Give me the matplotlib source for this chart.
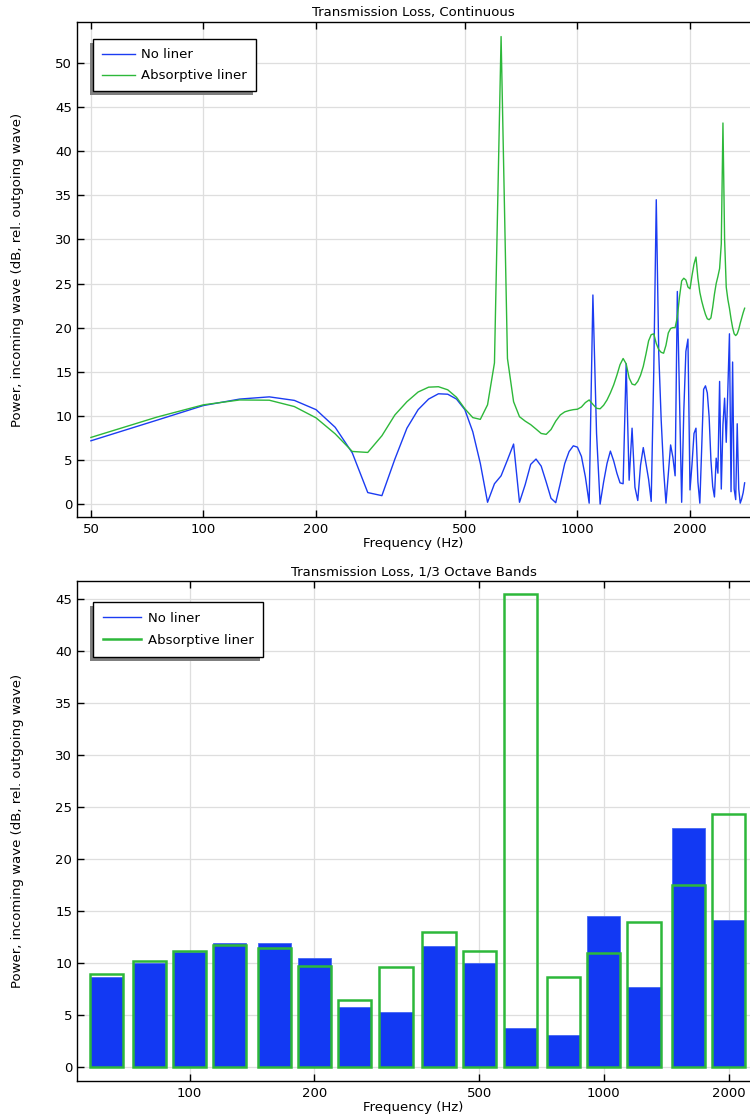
import matplotlib
matplotlib.use("Agg")
import matplotlib.pyplot as plt
import numpy as np
from matplotlib.lines import Line2D
from matplotlib.patches import Rectangle
from matplotlib.transforms import IdentityTransform
from matplotlib.ticker import NullLocator

# ---------------- data ----------------
freq = list(range(50, 2801, 25))

tl_no_liner = [
    7.17, 9.5, 11.17, 11.9, 12.15, 11.75, 10.7, 8.7, 5.8, 1.3,      # 50-275
    0.95, 5.1, 8.6, 10.7, 11.9, 12.5, 12.45, 11.9, 10.7, 8.2,       # 300-525
    4.6, 0.2, 2.3, 3.2, 5.0, 6.8, 0.2, 2.2, 4.5, 5.1,               # 550-775
    4.3, 2.5, 0.65, 0.15, 2.35, 4.6, 5.95, 6.6, 6.45, 5.4,          # 800-1025
    3.1, 0.1, 23.7, 8.0, 0.0, 2.5, 4.6, 6.0, 4.9, 3.5,              # 1050-1275
    2.4, 2.3, 15.9, 2.7, 8.6, 1.9, 0.4, 4.4, 6.4, 4.6,              # 1300-1525
    2.8, 0.3, 15.0, 34.5, 17.1, 9.5, 3.9, 0.1, 3.4, 6.7,            # 1550-1775
    5.3, 3.2, 24.1, 12.0, 0.2, 10.5, 17.3, 18.7, 1.6, 4.5,          # 1800-2025
    8.0, 8.6, 2.5, 0.1, 6.5, 13.0, 13.4, 12.6, 9.9, 5.0,            # 2050-2275
    2.0, 0.8, 5.2, 3.5, 13.9, 1.7, 9.0, 12.0, 7.0, 13.0,            # 2300-2525
    19.3, 1.4, 16.1, 1.7, 0.5, 9.1, 1.7, 0.1, 0.6, 1.3,             # 2550-2775
    2.4,                                                            # 2800
]

tl_absorptive = [
    7.55, 9.85, 11.25, 11.8, 11.77, 11.05, 9.77, 7.96, 5.96, 5.85,  # 50-275
    7.74, 10.1, 11.6, 12.7, 13.25, 13.3, 12.95, 12.1, 10.8, 9.8,    # 300-525
    9.6, 11.25, 16.0, 53.0, 16.5, 11.6, 9.9, 9.4, 9.0, 8.5,         # 550-775
    8.0, 7.9, 8.45, 9.4, 10.1, 10.45, 10.6, 10.7, 10.75, 11.0,      # 800-1025
    11.5, 11.8, 11.3, 10.85, 10.8, 11.2, 11.8, 12.6, 13.5, 14.6,    # 1050-1275
    15.8, 16.5, 15.9, 14.3, 13.6, 13.5, 13.9, 14.6, 15.6, 17.0,     # 1300-1525
    18.5, 19.2, 19.3, 18.2, 17.5, 17.2, 17.1, 18.0, 19.4, 19.9,     # 1550-1775
    20.0, 20.0, 21.2, 23.5, 25.3, 25.6, 25.4, 24.6, 24.4, 25.9,     # 1800-2025
    27.2, 28.0, 25.6, 24.0, 23.0, 22.2, 21.5, 21.0, 20.9, 21.1,     # 2050-2275
    22.3, 23.8, 25.0, 25.8, 26.7, 29.5, 43.2, 30.0, 24.6, 23.2,     # 2300-2525
    22.2, 21.0, 20.0, 19.3, 19.1, 19.3, 19.8, 20.5, 21.1, 21.7,     # 2550-2775
    22.2,                                                           # 2800
]

bands = [63, 80, 100, 125, 160, 200, 250, 315, 400, 500, 630, 800,
         1000, 1250, 1600, 2000]
band_no_liner = [8.65, 10.04, 11.1, 11.93, 11.93, 10.48, 5.75, 5.3,
                 11.6, 10.04, 3.72, 3.11, 14.5, 7.71, 23.02, 14.1]
band_absorptive = [8.96, 10.18, 11.19, 11.76, 11.43, 9.67, 6.46, 9.63,
                   13.0, 11.19, 45.47, 8.69, 10.92, 13.96, 17.48, 24.3]

series_labels = ["No liner", "Absorptive liner"]
top_title = "Transmission Loss, Continuous"
bottom_title = "Transmission Loss, 1/3 Octave Bands"
xlabel = "Frequency (Hz)"
ylabel = "Power, incoming wave (dB, rel. outgoing wave)"
top_xticks = [50, 100, 200, 500, 1000, 2000]
bottom_xticks = [100, 200, 500, 1000, 2000]

# ---------------- style ----------------
BLUE = "#1b3cf2"
BAR_BLUE = "#1239f3"
GREEN = "#2db83a"
FS = 9.5

W, H = 750, 1116
fig = plt.figure(figsize=(W / 100, H / 100), dpi=100)
ax1 = fig.add_axes([77 / W, 1 - 517 / H, 673 / W, 495 / H])
ax2 = fig.add_axes([77 / W, 1 - 1081 / H, 673 / W, 500 / H])


def style_axes(ax, xticks, ylim, yticks, xlim):
    ax.set_xscale("log")
    ax.set_xlim(*xlim)
    ax.set_ylim(*ylim)
    ax.set_xticks(xticks)
    ax.set_xticklabels([str(t) for t in xticks])
    ax.xaxis.set_minor_locator(NullLocator())
    ax.set_yticks(yticks)
    ax.grid(True, color="#dedede", lw=0.9, zorder=0)
    ax.set_axisbelow(True)
    ax.tick_params(axis="both", direction="in", length=5, width=1.0,
                   labelsize=FS, colors="black", pad=3.5)
    ax.tick_params(axis="x", top=True, pad=4)
    ax.tick_params(axis="y", right=False)
    ax.spines["right"].set_visible(False)
    for s in ("left", "bottom", "top"):
        ax.spines[s].set_linewidth(1.0)
    ax.set_xlabel(xlabel, fontsize=FS, labelpad=1.0)
    ax.set_ylabel(ylabel, fontsize=FS)
    ax.yaxis.set_label_coords(-0.079, 0.5)


# ---- top: continuous ----
ax1.plot(freq, tl_no_liner, color=BLUE, lw=1.0, label=series_labels[0], zorder=3)
ax1.plot(freq, tl_absorptive, color=GREEN, lw=1.0, label=series_labels[1], zorder=3)
style_axes(ax1, top_xticks, (-1.47, 54.65), np.arange(0, 51, 5), (45.9, 2894))
ax1.set_title(top_title, fontsize=FS, pad=4)

# ---- bottom: 1/3 octave bands ----
bands_arr = np.array(bands, dtype=float)
lo = bands_arr * 10 ** (-0.04)
hi = bands_arr * 10 ** (0.04)
ax2.bar(lo, band_no_liner, width=hi - lo, align="edge", color=BAR_BLUE,
        edgecolor="#4566f4", linewidth=0.6, zorder=2)
ax2.bar(lo, band_absorptive, width=hi - lo, align="edge", fill=False,
        edgecolor=GREEN, linewidth=1.8, zorder=3)
style_axes(ax2, bottom_xticks, (-1.35, 46.73), np.arange(0, 46, 5), (53.5, 2253))
ax2.set_title(bottom_title, fontsize=FS, pad=4)

# ---- legends ----
leg1 = ax1.legend(loc="upper left", bbox_to_anchor=(0.0238, 0.9657),
                  borderaxespad=0, fontsize=FS, handlelength=2.5,
                  handletextpad=0.45, borderpad=0.7, labelspacing=0.6,
                  fancybox=False, framealpha=1, edgecolor="black")
leg1.get_frame().set_linewidth(1.0)

handles2 = [Line2D([], [], color=BLUE, lw=1.0),
            Line2D([], [], color=GREEN, lw=1.8)]
leg2 = ax2.legend(handles2, series_labels, loc="upper left",
                  bbox_to_anchor=(0.0238, 0.958), borderaxespad=0,
                  fontsize=FS, handlelength=2.9, handletextpad=0.5,
                  borderpad=0.75, labelspacing=0.68, fancybox=False,
                  framealpha=1, edgecolor="black")
leg2.get_frame().set_linewidth(1.0)

fig.canvas.draw()
for ax, leg in ((ax1, leg1), (ax2, leg2)):
    bb = leg.get_window_extent()
    sh = Rectangle((bb.x0 - 3, bb.y0 - 4), bb.width, bb.height,
                   transform=IdentityTransform(), facecolor="#7f7f7f",
                   edgecolor="none", zorder=4.9, clip_on=False)
    ax.add_artist(sh)
    leg.set_zorder(5)

fig.savefig("out.png", dpi=100)
